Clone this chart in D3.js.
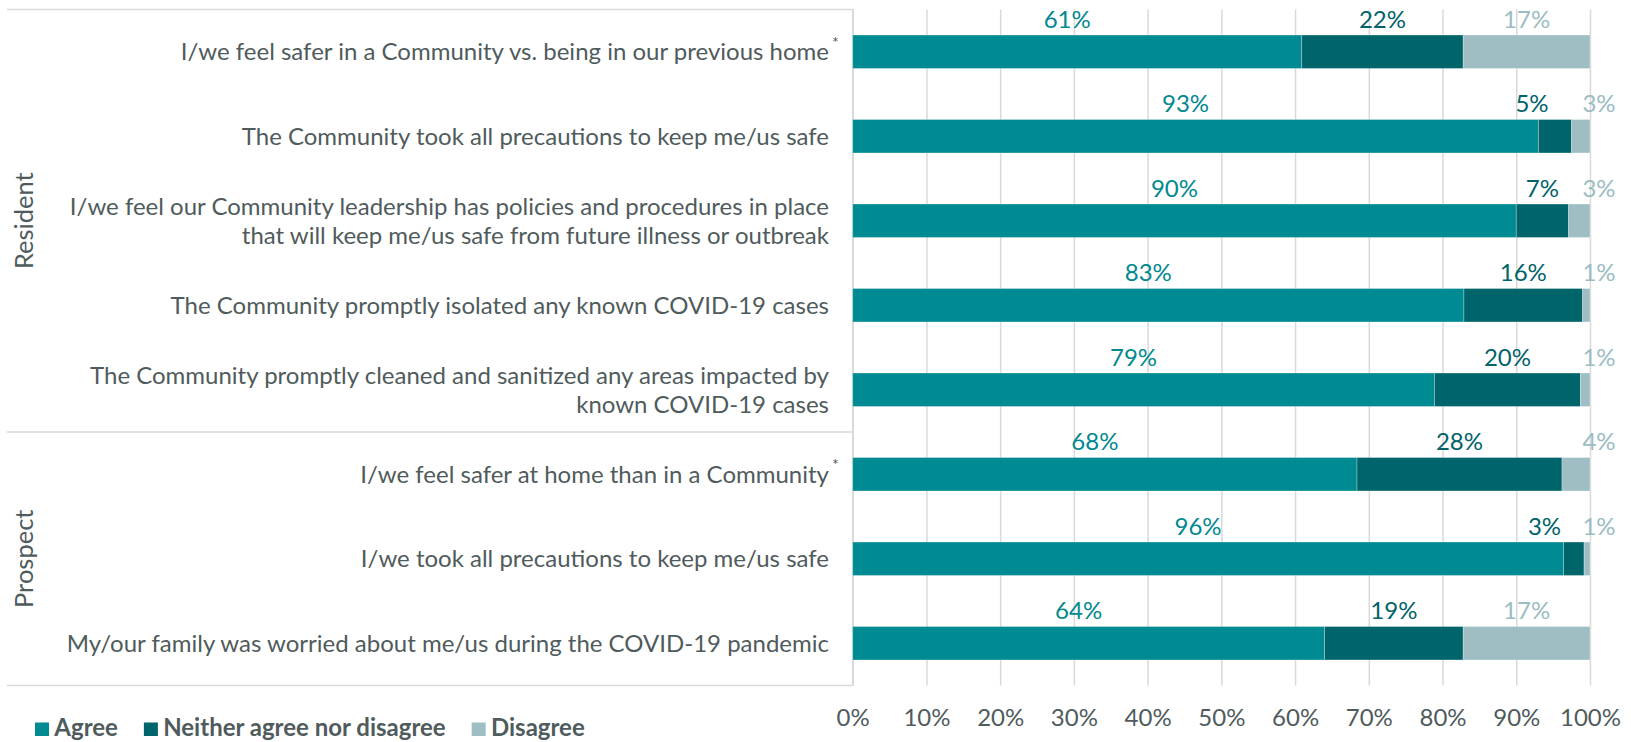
<!DOCTYPE html>
<html>
<head>
<meta charset="utf-8">
<script src="https://cdn.jsdelivr.net/npm/d3@7"></script>
<style>
  body { margin: 0; background: #fff; }
  svg { display: block; }
  text { font-family: Lato, "Noto Sans", sans-serif; }
</style>
</head>
<body>
<svg id="chart" width="1631" height="742"></svg>
<script>
// Survey statements (a trailing "*" marks a footnoted item; "\n" breaks a line)
const categories = [
  "I/we feel safer in a Community vs. being in our previous home*",
  "The Community took all precautions to keep me/us safe",
  "I/we feel our Community leadership has policies and procedures in place\nthat will keep me/us safe from future illness or outbreak",
  "The Community promptly isolated any known COVID-19 cases",
  "The Community promptly cleaned and sanitized any areas impacted by\nknown COVID-19 cases",
  "I/we feel safer at home than in a Community*",
  "I/we took all precautions to keep me/us safe",
  "My/our family was worried about me/us during the COVID-19 pandemic"
];

// Respondent groups, in order, with how many statements each covers
const groupNames = ["Resident", "Prospect"];
const groupSizes = [5, 3];

// Share of responses (%)
const agree    = [60.9, 93.0, 90.0, 82.9, 78.9, 68.4, 96.4, 64.0];
const neither  = [21.9,  4.5,  7.1, 16.1, 19.8, 27.8,  2.8, 18.8];
const disagree = [17.2,  2.5,  2.9,  1.0,  1.3,  3.8,  0.8, 17.2];

const seriesNames = ["Agree", "Neither agree nor disagree", "Disagree"];
const tickValues = [0, 10, 20, 30, 40, 50, 60, 70, 80, 90, 100];

// ---- styling ----
const fills     = ["#008b92", "#00656b", "#9ebec4"];
const labelInk  = ["#00898f", "#00636a", "#9bbcc2"];
const textInk   = "#4f5b5c";
const gridInk   = "#d9d9d9";
const fontSize  = 24;

const svg = d3.select("#chart");

const plotTop = 9.5, plotBottom = 685.5;
const x = d3.scaleLinear().domain([0, 100]).range([852.7, 1590]);
const y = d3.scaleBand()
  .domain(d3.range(categories.length))
  .range([plotTop, plotBottom])
  .paddingInner(0.604)
  .paddingOuter(0.302);

// ---- gridlines + percentage axis ----
const axis = d3.axisBottom(x)
  .tickValues(tickValues)
  .tickFormat(d => d + "%")
  .tickSize(plotBottom - plotTop)
  .tickPadding(23.5);

const axisG = svg.append("g")
  .attr("transform", `translate(0,${plotTop})`)
  .call(axis);
axisG.select(".domain").remove();
axisG.selectAll(".tick line").attr("stroke", gridInk).attr("stroke-width", 1.5);
axisG.selectAll(".tick text")
  .attr("fill", textInk)
  .style("font-size", fontSize + "px")
  .style("font-family", "Lato, sans-serif");

// ---- category frame on the left ----
const frame = svg.append("g").attr("stroke", gridInk).attr("stroke-width", 1.5);
const groupEdges = [0];
groupSizes.forEach((n, i) => groupEdges.push(groupEdges[i] + n));
const edgeY = k => plotTop + k * y.step();
groupEdges.forEach(k => {
  frame.append("line")
    .attr("x1", 7).attr("x2", x(0))
    .attr("y1", edgeY(k)).attr("y2", edgeY(k));
});
frame.append("line")
  .attr("x1", x(0)).attr("x2", x(0))
  .attr("y1", plotTop).attr("y2", plotBottom);

// group names, rotated
groupNames.forEach((name, i) => {
  const cy = (edgeY(groupEdges[i]) + edgeY(groupEdges[i + 1])) / 2;
  svg.append("text")
    .attr("transform", `translate(33,${cy}) rotate(-90)`)
    .attr("text-anchor", "middle")
    .attr("fill", textInk)
    .style("font-size", "25.5px")
    .text(name);
});

// statement labels
const labelRight = 829;
const lineGap = 28.7;
categories.forEach((c, i) => {
  const footnote = c.endsWith("*");
  const lines = (footnote ? c.slice(0, -1) : c).split("\n");
  const cy = y(i) + y.bandwidth() / 2;
  const firstBaseline = cy + 8.5 - (lines.length - 1) * lineGap / 2;
  const t = svg.append("text")
    .attr("text-anchor", "end")
    .attr("fill", textInk)
    .style("font-size", fontSize + "px");
  lines.forEach((ln, j) => {
    t.append("tspan")
      .attr("x", labelRight)
      .attr("y", firstBaseline + j * lineGap)
      .text(ln);
  });
  if (footnote) {
    svg.append("text")
      .attr("x", labelRight + 3)
      .attr("y", cy - 4)
      .attr("fill", textInk)
      .style("font-size", "16px")
      .text("*");
  }
});

// ---- stacked bars ----
const rows = categories.map((c, i) => ({
  i, Agree: agree[i], "Neither agree nor disagree": neither[i], Disagree: disagree[i]
}));
const stacked = d3.stack().keys(seriesNames)(rows);

const barG = svg.append("g");
stacked.forEach((layer, s) => {
  barG.append("g")
    .attr("fill", fills[s])
    .selectAll("rect")
    .data(layer)
    .join("rect")
    .attr("x", d => x(d[0]))
    .attr("y", d => y(d.data.i))
    .attr("width", d => x(d[1]) - x(d[0]))
    .attr("height", y.bandwidth())
    .attr("stroke", "#ffffff")
    .attr("stroke-opacity", 0.35)
    .attr("stroke-width", 0.8);
});

// ---- value labels above each segment ----
const fmt = v => Math.round(v) + "%";
const labelG = svg.append("g").style("font-size", fontSize + "px");
stacked.forEach((layer, s) => {
  layer.forEach(d => {
    const v = d[1] - d[0];
    let px, anchor = "middle";
    if (s === 0) {
      px = x((d[0] + d[1]) / 2) - 10;
    } else if (s === 1) {
      if (v < 6) { px = x(d[1]) - 23; anchor = "end"; }
      else px = x((d[0] + d[1]) / 2);
    } else {
      if (v < 6) px = x(100) + 9;
      else px = x((d[0] + d[1]) / 2);
    }
    labelG.append("text")
      .attr("x", px)
      .attr("y", y(d.data.i) - 7.5)
      .attr("text-anchor", anchor)
      .attr("fill", labelInk[s])
      .text(fmt(v));
  });
});

// ---- legend ----
const legend = svg.append("g").attr("transform", "translate(35,736)");
let lx = 0;
seriesNames.forEach((name, s) => {
  legend.append("rect")
    .attr("x", lx).attr("y", -13.5)
    .attr("width", 14).attr("height", 13.5)
    .attr("fill", fills[s]);
  const t = legend.append("text")
    .attr("x", lx + 19.3)
    .attr("y", 0)
    .attr("fill", textInk)
    .style("font-size", fontSize + "px")
    .style("font-weight", "bold")
    .text(name);
  lx += 19.3 + t.node().getComputedTextLength() + 26;
});
</script>
</body>
</html>
